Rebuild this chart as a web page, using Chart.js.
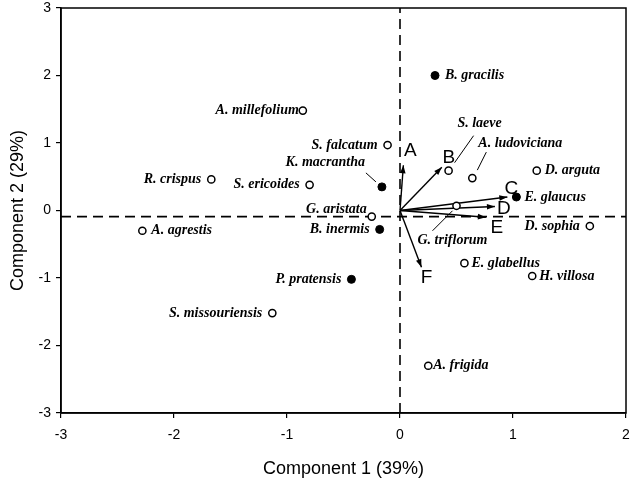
<!DOCTYPE html>
<html>
<head>
<meta charset="utf-8">
<script src="https://cdn.jsdelivr.net/npm/chart.js@4.4.1/dist/chart.umd.min.js"></script>
<style>
  html, body { margin: 0; padding: 0; background: #fff; }
</style>
</head>
<body>
<canvas id="pcaChart" width="632" height="484"></canvas>
<script>
// --- data ---
// species scores (component 1, component 2)
const speciesNames = ['B. gracilis', 'A. millefolium', 'S. falcatum', 'K. macrantha', 'R. crispus',
  'S. ericoides', 'G. aristata', 'B. inermis', 'A. agrestis', 'P. pratensis', 'S. missouriensis',
  'A. frigida', 'S. laeve', 'A. ludoviciana', 'D. arguta', 'E. glaucus', 'G. triflorum',
  'D. sophia', 'E. glabellus', 'H. villosa'];
const speciesX = [0.31, -0.86, -0.11, -0.16, -1.67, -0.80, -0.25, -0.18, -2.28, -0.43, -1.13,
  0.25, 0.43, 0.64, 1.21, 1.03, 0.50, 1.68, 0.57, 1.17];
const speciesY = [2.00, 1.48, 0.97, 0.35, 0.46, 0.38, -0.09, -0.28, -0.30, -1.02, -1.52,
  -2.30, 0.59, 0.48, 0.59, 0.20, 0.07, -0.23, -0.78, -0.97];
const speciesFilled = [true, false, false, true, false, false, false, true, false, true, false,
  false, false, false, false, true, false, false, false, false];

// loading vectors
const loadingNames = ['A', 'B', 'C', 'D', 'E', 'F'];
const loadingX = [0.03, 0.37, 0.95, 0.84, 0.76, 0.19];
const loadingY = [0.67, 0.64, 0.20, 0.06, -0.10, -0.84];

// axes
const xTicks = [-3, -2, -1, 0, 1, 2];
const yTicks = [-3, -2, -1, 0, 1, 2, 3];
const verticalRef = 0;
const horizontalRef = -0.09;

// --- label placement (pixels relative to the point) ---
const labelPlace = {
  'K. macrantha': { align: 'right', dx: -17, dy: -24, leader: [-16, -14, -6, -5] },
  'S. laeve': { align: 'center', dx: 31, dy: -47, leader: [25, -35, 6, -8] },
  'A. ludoviciana': { align: 'center', dx: 48, dy: -35, leader: [14, -26, 5, -8] },
  'G. triflorum': { align: 'center', dx: -4, dy: 35, leader: [-24, 25, -4, 5] },
  'G. aristata': { align: 'right', dx: -5, dy: -7 },
  'D. sophia': { align: 'right', dx: -10, dy: 0 },
  'A. agrestis': { align: 'left', dx: 9, dy: 0 },
  'A. frigida': { align: 'left', dx: 5, dy: 0 },
  'B. gracilis': { align: 'left', dx: 10, dy: 0 },
  'D. arguta': { align: 'left', dx: 8, dy: 0 },
  'E. glaucus': { align: 'left', dx: 8, dy: 0 },
  'E. glabellus': { align: 'left', dx: 7, dy: 0 },
  'H. villosa': { align: 'left', dx: 7, dy: 0 },
  'A. millefolium': { align: 'right', dx: -4, dy: 0 }
};
const letterOffset = {
  A: [7, -15], B: [7, -10], C: [4, -8], D: [9, 2], E: [11, 11], F: [5, 11]
};

// --- datasets ---
const openPoints = [];
const filledPoints = [];
speciesNames.forEach((name, i) => {
  const p = { x: speciesX[i], y: speciesY[i], label: name };
  (speciesFilled[i] ? filledPoints : openPoints).push(p);
});

const arrowSets = loadingNames.map((n, i) => ({
  type: 'line',
  label: n,
  data: [{ x: 0, y: 0 }, { x: loadingX[i], y: loadingY[i] }],
  borderColor: '#000',
  borderWidth: 1.4,
  pointRadius: 0,
  fill: false,
  order: 2
}));

const refSets = [
  {
    type: 'line',
    data: [{ x: xTicks[0], y: horizontalRef }, { x: xTicks[xTicks.length - 1], y: horizontalRef }],
    borderColor: '#000', borderWidth: 1.6, borderDash: [10, 6], pointRadius: 0, order: 3
  },
  {
    type: 'line',
    data: [{ x: verticalRef, y: yTicks[0] }, { x: verticalRef, y: yTicks[yTicks.length - 1] }],
    borderColor: '#000', borderWidth: 1.6, borderDash: [10, 6], pointRadius: 0, order: 3
  }
];

// arrowheads, frame and text labels
const annotate = {
  id: 'annotate',
  afterDatasetsDraw(chart) {
    const { ctx, chartArea, scales } = chart;
    const sx = scales.x, sy = scales.y;

    ctx.save();
    ctx.strokeStyle = '#000';
    ctx.lineWidth = 1.5;
    ctx.strokeRect(chartArea.left, chartArea.top, chartArea.right - chartArea.left, chartArea.bottom - chartArea.top);

    // arrowheads + letters
    ctx.fillStyle = '#000';
    loadingNames.forEach((n, i) => {
      const x0 = sx.getPixelForValue(0), y0 = sy.getPixelForValue(0);
      const x1 = sx.getPixelForValue(loadingX[i]), y1 = sy.getPixelForValue(loadingY[i]);
      const ang = Math.atan2(y1 - y0, x1 - x0);
      const len = 8, w = 2.8;
      ctx.beginPath();
      ctx.moveTo(x1, y1);
      ctx.lineTo(x1 - len * Math.cos(ang) + w * Math.sin(ang), y1 - len * Math.sin(ang) - w * Math.cos(ang));
      ctx.lineTo(x1 - len * Math.cos(ang) - w * Math.sin(ang), y1 - len * Math.sin(ang) + w * Math.cos(ang));
      ctx.closePath();
      ctx.fill();

      const off = letterOffset[n];
      ctx.font = '19px "Liberation Sans", Arial, sans-serif';
      ctx.textAlign = 'center';
      ctx.textBaseline = 'middle';
      ctx.fillText(n, x1 + off[0], y1 + off[1]);
    });

    // species names
    ctx.font = 'italic bold 14px "Liberation Serif", "Times New Roman", serif';
    ctx.textBaseline = 'middle';
    ctx.lineWidth = 1;
    speciesNames.forEach((name, i) => {
      const px = sx.getPixelForValue(speciesX[i]);
      const py = sy.getPixelForValue(speciesY[i]);
      const pl = labelPlace[name] || { align: 'right', dx: -10, dy: 0 };
      ctx.textAlign = pl.align;
      ctx.fillText(name, px + pl.dx, py + pl.dy);
      if (pl.leader) {
        const l = pl.leader;
        ctx.beginPath();
        ctx.moveTo(px + l[0], py + l[1]);
        ctx.lineTo(px + l[2], py + l[3]);
        ctx.stroke();
      }
    });
    ctx.restore();
  }
};

const axisFont = { family: '"Liberation Sans", Arial, sans-serif', size: 14 };
const titleFont = { family: '"Liberation Sans", Arial, sans-serif', size: 18 };

const noPad = (s) => { s.paddingTop = 0; s.paddingBottom = 0; s.paddingLeft = 0; s.paddingRight = 0; };

new Chart(document.getElementById('pcaChart'), {
  type: 'scatter',
  data: {
    datasets: [
      {
        data: filledPoints,
        pointRadius: 4,
        pointBackgroundColor: '#000',
        pointBorderColor: '#000',
        pointBorderWidth: 1,
        order: 0
      },
      {
        data: openPoints,
        pointRadius: 3.6,
        pointBackgroundColor: '#fff',
        pointBorderColor: '#000',
        pointBorderWidth: 1.5,
        order: 0
      },
      ...arrowSets,
      ...refSets
    ]
  },
  options: {
    responsive: false,
    animation: false,
    devicePixelRatio: 1,
    layout: { padding: { top: 8, right: 6, left: 0, bottom: 0 } },
    plugins: { legend: { display: false }, tooltip: { enabled: false } },
    scales: {
      x: {
        type: 'linear',
        min: xTicks[0],
        max: xTicks[xTicks.length - 1],
        afterBuildTicks: (s) => { s.ticks = xTicks.map(v => ({ value: v })); },
        afterFit: (s) => { s.height = 71; noPad(s); },
        ticks: { color: '#000', font: axisFont, padding: 9, maxRotation: 0 },
        grid: { drawOnChartArea: false, color: '#000', tickLength: 5, lineWidth: 1.2 },
        border: { color: '#000', width: 1.5 },
        title: { display: true, text: 'Component 1 (39%)', color: '#000', font: titleFont, padding: { top: 0, bottom: 4 } }
      },
      y: {
        type: 'linear',
        min: yTicks[0],
        max: yTicks[yTicks.length - 1],
        afterBuildTicks: (s) => { s.ticks = yTicks.map(v => ({ value: v })); },
        afterFit: (s) => { s.width = 61; noPad(s); },
        ticks: { color: '#000', font: axisFont, padding: 5 },
        grid: { drawOnChartArea: false, color: '#000', tickLength: 5, lineWidth: 1.2 },
        border: { color: '#000', width: 1.5 },
        title: { display: true, text: 'Component 2 (29%)', color: '#000', font: titleFont, padding: { top: 7, bottom: 0 } }
      }
    }
  },
  plugins: [annotate]
});
</script>
</body>
</html>
